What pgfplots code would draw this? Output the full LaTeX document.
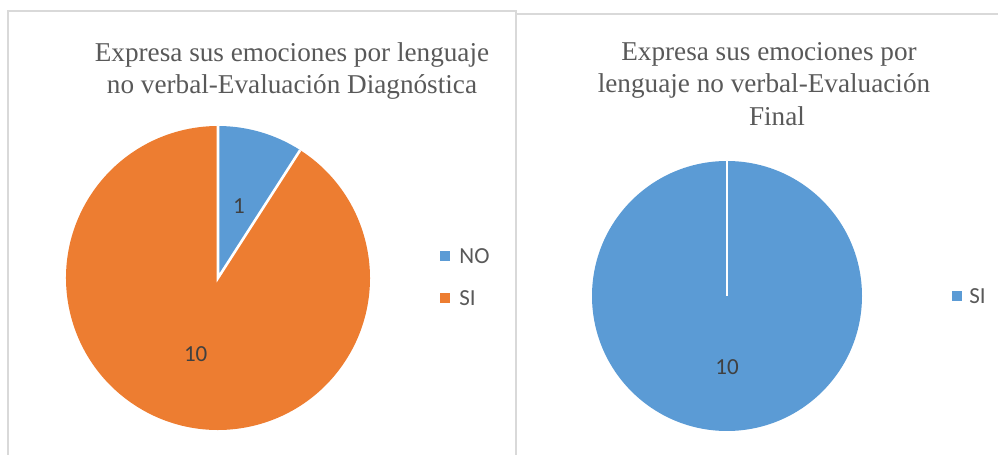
\documentclass[border=0pt]{standalone}
\usepackage{pgfplots}
\pgfplotsset{compat=1.18}
\usepackage{pgfplotstable}
\usepackage{fontspec}
\setmainfont{Liberation Serif}
\newfontfamily\carlito{Carlito}
\definecolor{pblue}{HTML}{5B9BD5}
\definecolor{porange}{HTML}{ED7D31}
\definecolor{tgrey}{HTML}{595959}
\definecolor{lgrey}{HTML}{404040}
\definecolor{bgrey}{HTML}{D9D9D9}

\pgfplotstableread{
cat val
NO 1
SI 10
}\diag
\pgfplotstableread{
cat val
SI 10
}\final

\begin{document}
\begin{tikzpicture}[x=1pt,y=1pt]
\path[use as bounding box] (0,0) rectangle (499,227.5);
\begin{scope}
\clip (0,0) rectangle (499,227.5);
\draw[bgrey, line width=1pt] (4,-3) -- (4,222) -- (258,222) -- (258,-3);
\draw[bgrey, line width=1pt] (258,220.5) -- (503,220.5);
\end{scope}

% ---- data ----
\pgfplotstablegetelem{0}{val}\of\diag \global\let\vNO\pgfplotsretval
\pgfplotstablegetelem{1}{val}\of\diag \global\let\vSI\pgfplotsretval
\pgfplotstablegetelem{0}{val}\of\final \global\let\vSIf\pgfplotsretval
\pgfmathsetmacro\tot{\vNO+\vSI}
\pgfmathsetmacro\aNO{90-360*\vNO/\tot}
\pgfmathsetmacro\mNO{90-180*\vNO/\tot}
\pgfmathsetmacro\mSI{\aNO-180*\vSI/\tot}

% ---- left pie ----
\begin{axis}[at={(109pt,88.5pt)}, anchor=center, hide axis, scale only axis,
  x=76pt, y=76pt, xmin=-1, xmax=1, ymin=-1, ymax=1, clip=false]
\fill[pblue] (axis cs:0,0) -- (axis cs:0,1) arc[start angle=90, end angle=\aNO, radius=76pt] -- cycle;
\fill[porange] (axis cs:0,0) -- (axis cs:{cos(\aNO)},{sin(\aNO)}) arc[start angle=\aNO, end angle=-270, radius=76pt] -- cycle;
\draw[white, line width=1.3pt] (axis cs:{cos(\aNO)},{sin(\aNO)}) -- (axis cs:0,0) -- (axis cs:0,1);
\node[font=\carlito\fontsize{11.5}{13}\selectfont, text=lgrey] at (axis cs:{0.49*cos(\mNO)},{0.49*sin(\mNO)}) {\vNO};
\node[font=\carlito\fontsize{11.5}{13}\selectfont, text=lgrey] at (axis cs:{0.52*cos(\mSI)},{0.52*sin(\mSI)}) {\vSI};
\end{axis}

% ---- right pie ----
\begin{axis}[at={(363.5pt,79.5pt)}, anchor=center, hide axis, scale only axis,
  x=67.5pt, y=67.5pt, xmin=-1, xmax=1, ymin=-1, ymax=1, clip=false]
\fill[pblue] (axis cs:0,0) circle[radius=67.5pt];
\draw[white, line width=1.3pt] (axis cs:0,0) -- (axis cs:0,1);
\node[font=\carlito\fontsize{11.5}{13}\selectfont, text=lgrey] at (axis cs:0,-0.526) {\vSIf};
\end{axis}

% ---- titles ----
\begin{scope}[every node/.style={font=\fontsize{13.6}{16.5}\selectfont, text=tgrey, anchor=base, inner sep=0pt}]
\node at (146,196.5) {Expresa sus emociones por lenguaje};
\node at (146,180.5) {no verbal-Evaluación Diagnóstica};
\node at (384.5,197) {Expresa sus emociones por};
\node at (382,181) {lenguaje no verbal-Evaluación};
\node at (388.5,164.5) {Final};
\end{scope}

% ---- legends ----
\fill[pblue] (220,97) rectangle (225,102);
\fill[porange] (220,76) rectangle (225,81);
\fill[pblue] (476,77) rectangle (481,82);
\begin{scope}[every node/.style={font=\carlito\fontsize{11.5}{13}\selectfont, text=tgrey, anchor=west, inner sep=0pt}]
\node at (229.5,99.5) {NO};
\node at (229.5,78.5) {SI};
\node at (484.5,79.5) {SI};
\end{scope}
\end{tikzpicture}
\end{document}
